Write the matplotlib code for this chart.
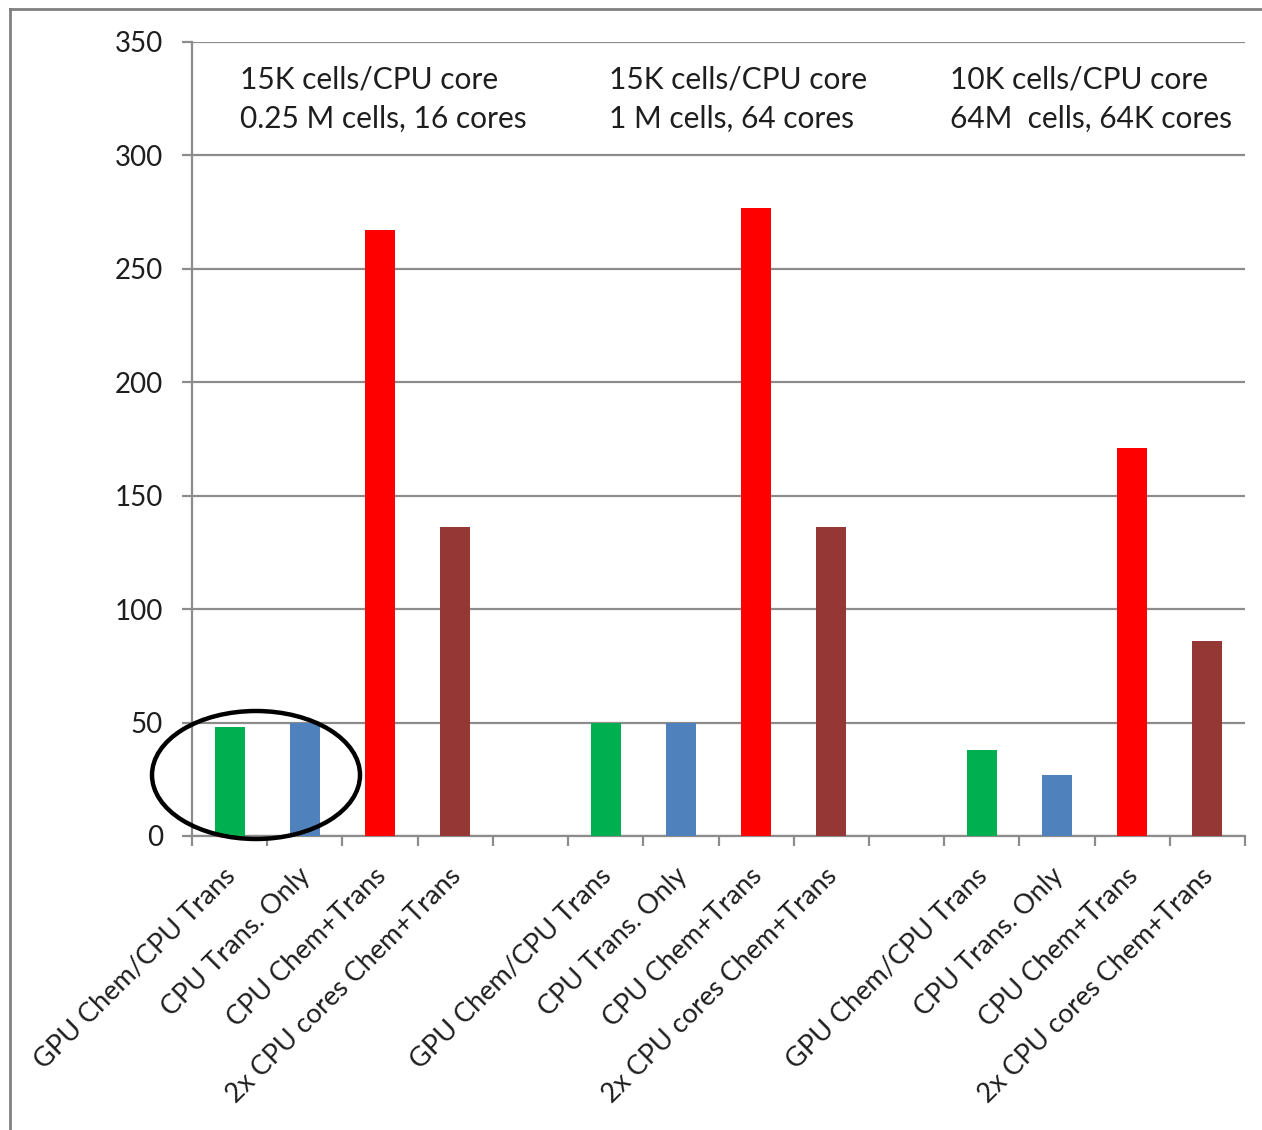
import numpy as np
import matplotlib
matplotlib.use("Agg")
import matplotlib.pyplot as plt
from matplotlib.patches import Ellipse
from matplotlib.lines import Line2D
import matplotlib.transforms as mtransforms

# Bar labels for one group of runs (repeated for each problem size)
bar_labels = ["GPU Chem/CPU Trans", "CPU Trans. Only", "CPU Chem+Trans", "2x CPU cores Chem+Trans"]
bar_colors = ["#00B050", "#4F81BD", "#FF0000", "#953735"]

# Values for each problem size
group1_values = [48, 50, 267, 136]
group2_values = [50, 50, 277, 136]
group3_values = [38, 27, 171, 86]

group_notes = [
    "15K cells/CPU core\n0.25 M cells, 16 cores",
    "15K cells/CPU core\n1 M cells, 64 cores",
    "10K cells/CPU core\n64M  cells, 64K cores",
]

y_ticks = [0, 50, 100, 150, 200, 250, 300, 350]

plt.rcParams["font.family"] = ["Lato", "DejaVu Sans"]

W, H = 1262, 1130
fig = plt.figure(figsize=(W / 100, H / 100), dpi=100)
fig.patch.set_facecolor("white")

ax = fig.add_axes([192 / W, 1 - 836 / H, (1245 - 192) / W, (836 - 42) / H])

groups = [group1_values, group2_values, group3_values]
n_per_group = len(bar_labels)
stride = n_per_group + 1  # one empty slot between groups
n_slots = stride * len(groups) - 1

centers = []
labels = []
for g, vals in enumerate(groups):
    xs = np.arange(n_per_group) + g * stride + 0.5
    ax.bar(xs, vals, width=0.4, color=bar_colors, zorder=3, linewidth=0)
    centers.extend(xs)
    labels.extend(bar_labels)

grid_color = "#8c8c8c"
text_color = "#1e1e1e"
ax.set_xlim(0, n_slots)
ax.set_ylim(0, 350)
ax.set_yticks(y_ticks)
ax.yaxis.grid(True, color=grid_color, linewidth=1.6, zorder=0)
ax.set_axisbelow(True)

for side in ["top", "right"]:
    ax.spines[side].set_visible(False)
for side in ["left", "bottom"]:
    ax.spines[side].set_color(grid_color)
    ax.spines[side].set_linewidth(1.6)

ax.tick_params(axis="y", length=7, width=1.6, color=grid_color, pad=14,
               labelsize=20, labelcolor=text_color)

# Tick marks at the slot boundaries, labels at the bar centres
ax.set_xticks(np.arange(0, n_slots + 1))
ax.set_xticklabels([])
ax.tick_params(axis="x", which="major", length=7, width=1.6, color=grid_color)
ax.set_xticks(centers, minor=True)
ax.set_xticklabels(labels, minor=True, rotation=45, ha="right", va="center",
                   rotation_mode="anchor", fontsize=19.5, color=text_color)
ax.tick_params(axis="x", which="minor", length=0, pad=26)
offset = mtransforms.ScaledTranslation(2 / 100, 0, fig.dpi_scale_trans)
for lbl in ax.get_xticklabels(minor=True):
    lbl.set_transform(lbl.get_transform() + offset)

# Notes above each group
note_x = [240, 609, 950]
for x, note in zip(note_x, group_notes):
    fig.text(x / W, 1 - 99 / H, note, fontsize=21.5, color=text_color,
             ha="left", va="center", linespacing=1.5)

# Ellipse highlighting the first pair of bars
ell = Ellipse((256 / W, 1 - 775 / H), 208 / W, 128 / H, transform=fig.transFigure,
              fill=False, edgecolor="black", linewidth=3.2, zorder=10)
fig.add_artist(ell)

# Outer frame (top and left edges)
frame_x = 10 / W
frame_y = 1 - 9 / H
fig.add_artist(Line2D([frame_x, 1.0], [frame_y, frame_y], transform=fig.transFigure,
                      color="#808080", linewidth=2))
fig.add_artist(Line2D([frame_x, frame_x], [0.0, frame_y], transform=fig.transFigure,
                      color="#808080", linewidth=2))

fig.savefig("out.png", dpi=100)
